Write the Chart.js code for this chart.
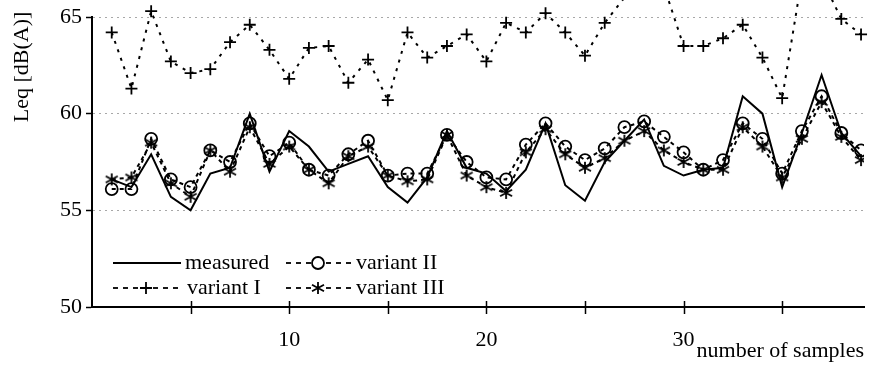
<!DOCTYPE html>
<html>
<head>
<meta charset="utf-8">
<title>Leq vs number of samples</title>
<script src="https://cdn.jsdelivr.net/npm/chart.js@4.4.0/dist/chart.umd.min.js"></script>
<style>
  body { margin: 0; background: #fff; }
  #wrap { width: 874px; height: 365px; }
</style>
</head>
<body>
<div id="wrap"><canvas id="myChart"></canvas></div>
<script>
// sample numbers on the x axis
var samples = [1, 2, 3, 4, 5, 6, 7, 8, 9, 10, 11, 12, 13, 14, 15, 16, 17, 18, 19, 20,
  21, 22, 23, 24, 25, 26, 27, 28, 29, 30, 31, 32, 33, 34, 35, 36, 37, 38, 39];

// Leq values in dB(A)
var measured = [56.6, 56.2, 57.9, 55.7, 55.0, 56.9, 57.2, 60.0, 57.0, 59.1,
  58.3, 57.0, 57.4, 57.8, 56.2, 55.4, 56.7, 59.1, 57.2, 56.9,
  56.0, 57.1, 59.5, 56.3, 55.5, 57.5, 58.6, 59.7, 57.3, 56.8,
  57.1, 57.2, 60.9, 60.0, 56.2, 59.0, 62.0, 59.0, 57.8];
var variantI = [64.2, 61.3, 65.3, 62.7, 62.1, 62.3, 63.7, 64.6, 63.3, 61.8,
  63.4, 63.5, 61.6, 62.8, 60.7, 64.2, 62.9, 63.5, 64.1, 62.7,
  64.7, 64.2, 65.2, 64.2, 63.0, 64.7, 66.0, 67.5, 66.6, 63.5,
  63.5, 63.9, 64.6, 62.9, 60.8, 67.0, 67.0, 64.9, 64.1];
var variantII = [56.1, 56.1, 58.7, 56.6, 56.2, 58.1, 57.5, 59.5, 57.8, 58.5,
  57.1, 56.8, 57.9, 58.6, 56.8, 56.9, 56.9, 58.9, 57.5, 56.7,
  56.6, 58.4, 59.5, 58.3, 57.6, 58.2, 59.3, 59.6, 58.8, 58.0,
  57.1, 57.6, 59.5, 58.7, 56.9, 59.1, 60.9, 59.0, 58.1];
var variantIII = [56.6, 56.7, 58.5, 56.4, 55.7, 58.1, 57.0, 59.3, 57.4, 58.3,
  57.1, 56.4, 57.8, 58.3, 56.8, 56.5, 56.6, 58.9, 56.8, 56.2,
  55.9, 58.0, 59.2, 57.9, 57.2, 57.7, 58.6, 59.1, 58.1, 57.5,
  57.1, 57.1, 59.3, 58.3, 56.7, 58.7, 60.6, 58.8, 57.6];

var xTickLabels = [10, 20, 30];
var xTickMarks = [5, 10, 15, 20, 25, 30, 35];

var serif = '"Liberation Serif", "DejaVu Serif", serif';

function pairs(values) {
  return samples.map(function (s, i) {
    return { x: s, y: values[i] };
  });
}

// asterisk marker: vertical bar with an x through it
function makeAsterisk(r) {
  var c = document.createElement('canvas');
  c.width = r * 2 + 4;
  c.height = r * 2 + 4;
  var g = c.getContext('2d');
  var m = r + 2;
  g.strokeStyle = '#000';
  g.lineWidth = 1.8;
  g.beginPath();
  g.moveTo(m, m - r); g.lineTo(m, m + r);
  g.moveTo(m - r, m - r * 0.55); g.lineTo(m + r, m + r * 0.55);
  g.moveTo(m - r, m + r * 0.55); g.lineTo(m + r, m - r * 0.55);
  g.stroke();
  return c;
}
var asterisk = makeAsterisk(6);

// tick marks crossing the x axis, y axis title and the legend box
var extras = {
  id: 'extras',
  afterDraw: function (chart) {
    var ctx = chart.ctx;
    var xs = chart.scales.x;
    var bottom = chart.chartArea.bottom;
    ctx.save();
    ctx.strokeStyle = '#000';
    ctx.lineWidth = 1.5;
    xTickMarks.forEach(function (v) {
      var px = Math.round(xs.getPixelForValue(v)) + 0.5;
      ctx.beginPath();
      ctx.moveTo(px, bottom - 6);
      ctx.lineTo(px, bottom + 7);
      ctx.stroke();
    });

    // y title
    ctx.fillStyle = '#000';
    ctx.font = '22px ' + serif;
    ctx.textAlign = 'center';
    ctx.textBaseline = 'middle';
    ctx.save();
    ctx.translate(22, 67);
    ctx.rotate(-Math.PI / 2);
    ctx.fillText('Leq [dB(A)]', 0, 0);
    ctx.restore();

    // legend
    ctx.textAlign = 'left';
    function sample(x1, x2, y, dash) {
      ctx.save();
      ctx.lineWidth = dash ? 1.8 : 2;
      ctx.setLineDash(dash || []);
      ctx.beginPath();
      ctx.moveTo(x1, y);
      ctx.lineTo(x2, y);
      ctx.stroke();
      ctx.restore();
    }
    var r1 = 263, r2 = 288;
    sample(113, 181, r1, null);
    ctx.fillText('measured', 185, r1);

    sample(113, 181, r2, [5, 5]);
    ctx.lineWidth = 1.8;
    ctx.beginPath();
    ctx.moveTo(146 - 6, r2); ctx.lineTo(146 + 6, r2);
    ctx.moveTo(146, r2 - 6); ctx.lineTo(146, r2 + 6);
    ctx.stroke();
    ctx.fillText('variant I', 187, r2);

    sample(286, 352, r1, [5, 5]);
    ctx.fillStyle = '#fff';
    ctx.beginPath();
    ctx.arc(318, r1, 6, 0, Math.PI * 2);
    ctx.fill();
    ctx.stroke();
    ctx.fillStyle = '#000';
    ctx.fillText('variant II', 356, r1);

    sample(286, 352, r2, [5, 5]);
    ctx.fillStyle = '#fff';
    ctx.fillRect(311, r2 - 7, 14, 14);
    ctx.drawImage(asterisk, 318 - asterisk.width / 2, r2 - asterisk.height / 2);
    ctx.fillStyle = '#000';
    ctx.fillText('variant III', 356, r2);
    ctx.restore();
  }
};

new Chart(document.getElementById('myChart'), {
  type: 'line',
  data: {
    datasets: [
      {
        label: 'measured',
        data: pairs(measured),
        borderColor: '#000',
        borderWidth: 2,
        pointRadius: 0,
        tension: 0
      },
      {
        label: 'variant I',
        data: pairs(variantI),
        borderColor: '#000',
        borderWidth: 2,
        borderDash: [3, 6],
        pointStyle: 'cross',
        pointRadius: 6,
        pointBorderWidth: 1.8,
        pointBorderColor: '#000',
        clip: false
      },
      {
        label: 'variant II',
        data: pairs(variantII),
        borderColor: '#000',
        borderWidth: 2,
        borderDash: [4, 4],
        pointStyle: 'circle',
        pointRadius: 6,
        pointBorderWidth: 1.8,
        pointBorderColor: '#000',
        pointBackgroundColor: 'rgba(0,0,0,0)'
      },
      {
        label: 'variant III',
        data: pairs(variantIII),
        borderColor: '#000',
        borderWidth: 2,
        borderDash: [4, 4],
        pointStyle: asterisk,
        pointRadius: 6
      }
    ]
  },
  options: {
    responsive: true,
    maintainAspectRatio: false,
    animation: false,
    events: [],
    layout: { autoPadding: false, padding: { left: 0, top: 17, right: 10, bottom: 0 } },
    plugins: {
      legend: { display: false },
      tooltip: { enabled: false }
    },
    scales: {
      x: {
        type: 'linear',
        min: 0,
        max: 39.15,
        afterFit: function (scale) {
          scale.height = 58;
          scale.paddingLeft = 0;
          scale.paddingRight = 0;
        },
        border: { color: '#000', width: 2 },
        grid: {
          drawOnChartArea: false,
          tickLength: 7,
          tickColor: 'rgba(0,0,0,0)'
        },
        ticks: {
          stepSize: 5,
          autoSkip: false,
          maxRotation: 0,
          padding: 13,
          color: '#000',
          font: { family: serif, size: 22 },
          callback: function (value) {
            return xTickLabels.indexOf(value) >= 0 ? String(value) : '';
          }
        },
        title: {
          display: true,
          text: 'number of samples',
          align: 'end',
          color: '#000',
          font: { family: serif, size: 22 },
          padding: { top: 0, bottom: 1 }
        }
      },
      y: {
        min: 50,
        max: 65,
        afterFit: function (scale) {
          scale.width = 92;
          scale.paddingTop = 0;
          scale.paddingBottom = 0;
        },
        border: { color: '#000', width: 2, dash: [2, 4] },
        grid: {
          color: function (ctx) {
            return ctx.tick && ctx.tick.value === 50 ? 'rgba(0,0,0,0)' : '#a8a8a8';
          },
          lineWidth: 1,
          tickLength: 6,
          tickColor: '#000',
          tickWidth: 1.5
        },
        ticks: {
          stepSize: 5,
          padding: 4,
          color: '#000',
          font: { family: serif, size: 22 }
        }
      }
    }
  },
  plugins: [extras]
});
</script>
</body>
</html>
